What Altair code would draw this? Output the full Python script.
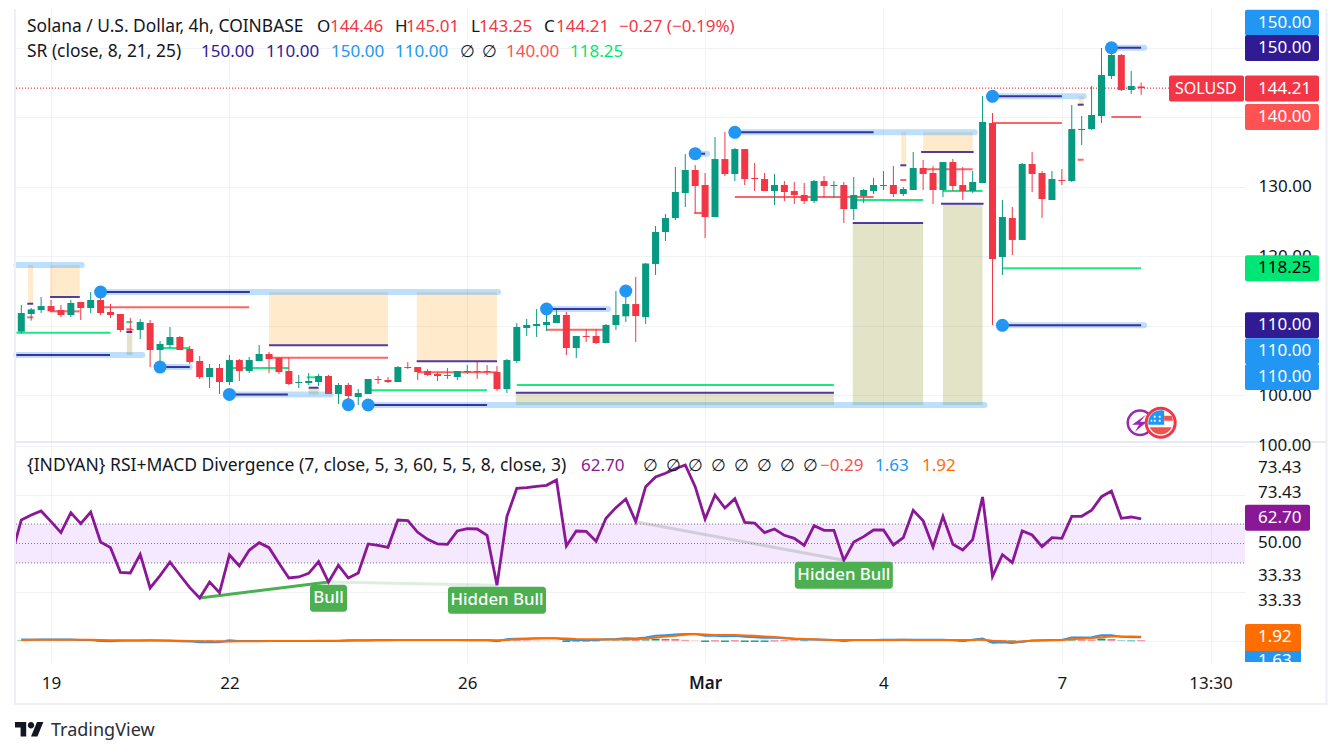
import altair as alt
import pandas as pd

FONT = "Noto Sans"
UP, DOWN = "#089981", "#F23645"
GRID = "#f1f2f6"
FRAME = "#eff0f6"
INK = "#131722"

opens = [109.13,111.67,112.25,112.82,112.25,111.53,113.40,112.54,113.69,111.96,111.67,109.46,109.37,110.37,106.48,107.20,108.36,106.63,104.90,102.59,103.89,101.87,105.04,103.46,104.90,105.91,105.38,103.46,101.73,101.73,101.87,102.74,100.14,101.44,99.71,100.14,102.31,102.16,101.87,104.03,104.03,103.46,103.03,102.88,102.59,103.31,103.46,103.46,103.31,100.86,104.90,109.65,109.94,110.09,110.37,111.53,106.77,108.50,108.50,107.49,110.09,111.34,113.11,111.24,118.87,123.49,125.50,129.10,132.42,130.26,125.65,134.00,131.84,135.44,131.27,131.12,129.39,130.26,129.39,128.82,127.95,130.83,130.11,130.26,126.80,128.67,129.39,130.11,130.26,128.96,129.54,132.71,132.00,129.54,133.57,130.26,129.40,130.55,139.19,119.89,125.51,122.34,133.29,132.00,128.10,130.98,130.84,138.18,138.33,140.20,145.97,148.99,143.95,144.46]
highs = [112.97,112.54,114.12,113.69,112.97,113.69,113.40,114.84,114.27,113.11,111.67,111.10,110.95,110.81,107.78,109.80,108.50,107.06,105.62,104.47,104.47,105.76,105.19,105.48,107.20,106.20,105.38,105.38,102.88,103.17,103.03,102.88,101.73,101.73,100.86,102.31,102.74,102.59,104.18,104.75,104.03,103.75,103.31,103.89,103.46,104.32,104.75,104.32,104.18,105.19,110.37,110.95,112.39,112.82,112.34,111.96,108.50,109.51,109.51,110.23,114.99,114.99,117.00,119.02,124.35,126.08,132.85,134.72,133.14,131.99,137.17,137.89,135.59,135.44,133.43,131.99,131.84,130.83,130.69,130.55,130.98,131.55,130.83,130.69,131.41,129.68,131.27,132.27,132.99,129.97,135.02,133.86,132.99,133.57,134.01,132.85,132.28,143.08,140.63,128.10,127.09,133.43,135.02,132.28,132.28,132.57,141.79,140.20,144.53,150.00,149.57,149.14,146.69,145.01]
lows = [108.84,110.71,111.82,111.96,111.24,111.24,110.81,111.82,111.53,111.10,109.08,108.93,108.07,104.03,104.03,106.77,106.48,104.47,102.31,101.01,100.14,101.44,102.02,103.17,104.90,103.17,103.03,101.44,101.01,101.44,101.30,100.14,98.70,98.85,98.56,100.14,101.59,101.73,101.87,103.75,102.16,102.74,102.02,102.31,102.16,103.03,102.31,102.88,100.58,100.29,104.61,108.50,108.36,109.22,110.37,105.76,105.33,107.64,107.35,107.49,109.37,110.52,107.64,110.23,117.29,122.19,125.21,127.09,126.22,122.62,125.65,131.55,130.83,130.26,129.39,129.39,127.38,127.95,127.52,127.52,127.66,128.38,128.38,124.78,125.21,127.66,128.96,129.54,128.53,128.67,129.54,129.54,127.52,128.53,129.40,128.10,129.11,130.55,110.09,117.29,120.17,122.34,129.25,125.51,128.10,130.26,130.69,136.02,138.18,139.19,145.53,143.80,143.37,143.25]
closes = [111.82,112.34,112.82,112.06,111.53,113.26,112.54,113.69,111.82,111.53,109.37,109.32,110.52,106.48,107.35,108.36,106.48,104.75,102.59,103.89,101.87,105.04,103.46,105.04,105.91,105.19,103.31,101.59,101.87,102.02,102.74,100.14,101.44,99.86,100.29,102.31,102.16,101.87,104.03,103.89,103.31,102.88,102.74,102.74,103.46,103.46,103.31,103.31,100.86,105.04,109.80,110.09,110.23,110.52,111.53,106.77,108.50,108.36,107.49,110.09,111.53,113.11,111.38,118.95,123.49,125.50,129.25,132.42,130.11,125.65,134.00,131.84,135.44,131.12,131.12,129.39,130.26,129.25,128.82,127.95,130.83,130.11,130.26,126.80,128.82,129.54,130.26,130.26,128.96,129.68,132.71,131.85,129.54,133.57,130.12,129.40,130.69,139.34,119.60,125.65,122.34,133.29,131.85,128.24,131.12,130.84,138.33,138.33,140.35,146.11,148.99,143.95,144.53,144.21]

rsi_bars = list(range(-1, 114))
rsi_values = [43.6,62.12,64.69,66.76,61.26,55.59,65.90,60.23,66.24,50.78,47.86,35.14,34.80,44.42,27.07,33.43,40.47,33.77,27.24,21.92,30.16,24.67,44.08,38.41,46.48,50.43,47.86,39.78,32.22,32.74,34.63,40.64,30.16,38.75,32.22,34.80,49.75,49.06,48.03,62.12,61.77,55.76,52.15,49.75,49.58,56.45,57.65,57.48,54.21,28.44,63.84,78.44,78.78,79.47,79.98,82.73,48.72,56.45,56.28,51.12,62.98,68.47,72.94,61.26,79.30,84.28,86.17,88.57,90.46,79.30,62.63,75.00,68.30,73.11,60.91,60.57,55.59,57.48,54.21,52.67,49.06,59.20,56.79,56.79,41.33,50.78,53.53,56.96,56.96,49.23,53.01,67.10,61.77,48.20,64.01,49.58,46.66,51.98,73.97,33.08,44.25,40.13,56.45,54.39,48.37,53.01,52.67,64.01,64.01,67.10,74.14,77.06,62.98,63.66,62.70]

signal = [.3,.35,.4,.45,.45,.45,.4,.35,.3,.15,.1,.05,0,0,0,-.05,-.15,-.25,-.35,-.4,-.45,-.45,-.4,-.4,-.35,-.3,-.3,-.3,-.3,-.3,-.25,-.25,-.2,-.1,0,.05,.1,.15,.2,.25,.25,.25,.25,.25,.25,.2,.2,.2,.1,.3,.6,.8,1.0,1.1,1.15,1.05,.8,.7,.6,.55,.55,.6,.7,1.0,1.5,2.0,2.5,3.0,3.3,3.1,2.9,2.9,2.8,2.6,2.4,2.1,1.8,1.4,1.0,.8,.6,.4,.3,.2,.2,.2,.25,.3,.3,.35,.3,.3,.3,.3,.2,.2,.3,.5,-.1,-.4,-.7,-.5,-.1,.05,.1,.2,.7,1.0,1.3,1.7,2.1,2.1,2.0,1.92]
hist = [.2,.1,.1,.05,.1,.05,-.1,-.1,-.5,-.5,-.2,-.1,.05,.1,.05,-.05,-.2,-.2,-.6,-.5,-.4,.4,.2,.1,.1,.05,.1,.1,.1,.1,.1,.1,.1,.2,.1,.1,.1,.1,.1,-.05,-.05,-.05,.05,.05,-.05,-.05,.05,-.05,-.5,.4,.3,.2,.1,.1,.05,-.7,-.5,-.5,-.4,.1,.2,.5,.3,.6,.9,.7,.6,.3,.1,-.7,-.4,-.7,-.4,-.7,-.7,-.7,-.4,-.3,-.2,-.3,-.1,-.05,-.05,-.4,.05,.05,.05,.05,.05,.1,.1,.1,.05,.05,-.05,-.5,.1,.5,-1.0,-.5,-.6,-.2,.1,.1,.1,.1,.8,.5,.4,1.0,.6,-.2,-.35,-.29]

# Support / resistance indicator pieces: start bar, end bar, price
sr_band = [(-0.5,6.1,118.73),(8,48.1,114.84),(-0.5,12.2,105.76),(14,17,104.03),(21,31.2,100.09),(35,97.2,98.56),(53,59.2,112.39),(68,69.2,134.77),(72,96.2,137.85),(98,107.2,143.04),(99,113.3,110.04),(110,113.3,150.04)]
sr_level = [(8,23.06,114.84),(-0.5,8.95,105.76),(14,17,104.03),(21,26.9,100.09),(35,47,98.56),(53,59,112.39),(68,69,134.77),(72,86,137.85),(98,105,143.04),(99,113,110.04),(110,113,150.04)]
sr_pivot_bar = [8,14,21,33,35,53,61,68,72,98,99,110]
sr_pivot_price = [114.84,104.03,100.09,98.6,98.56,112.39,114.99,134.77,137.85,143.04,110.04,150.04]
orange_box = [(0.68,1.2,118.73,113.15),(2.9,5.9,118.73,114.12),(25,37,114.84,107.16),(39.9,48,114.84,104.85),(88.8,89.3,137.85,133.10),(91,96,137.85,135.01),(106.7,107.2,143.04,141.83)]
olive_box = [(10.65,11.2,109.08,105.76),(29,30,101.05,100.09),(49.9,82,100.33,98.56),(83.9,91,124.78,98.56),(93,97,127.57,98.56)]
box_edge = [(0.6,1.2,113.15),(2.9,5.9,114.12),(25,37,107.16),(39.9,48,104.85),(88.7,89.3,133.10),(90.8,96.1,135.01),(106.6,107.2,141.83),(10.6,11.2,109.08),(29,30,101.05),(49.9,82,100.33),(83.9,91,124.78),(92.8,97.1,127.57)]
red_seg = [(0.6,1.2,111.19),(2.9,5.9,112.06),(8.2,23,112.64),(10.6,11.2,109.47),(25,37,105.37),(40,48,103.27),(53,59,109.41),(67.9,68.8,126.22),(72,86,128.53),(88.7,89.3,130.98),(91,96,132.52),(98,105,139.19),(106.6,107.2,133.9),(110,113,140.06)]
green_seg = [(-0.5,9,108.98),(10.6,11.2,110.52),(14,17,106.77),(21,27,103.89),(28.8,30,102.55),(35,47,100.67),(50,82,101.44),(84,91,128.1),(93,97,129.4),(99,113,118.25)]

time_ticks = [3,21,45,69,87,105,120]
time_labels = ["19","22","26","Mar","4","7","13:30"]
price_ticks = [100,110,120,130,140,150]
rsi_grid = [100,75,25,0]
rsi_levels = [60,50,40]

XDOM = [-0.535, 123.48]
xs = alt.Scale(domain=XDOM, nice=False, zero=False, padding=0)
ps = alt.Scale(domain=[93.23, 155.62], nice=False, zero=False)
rs = alt.Scale(domain=[-11.08, 101.8], nice=False, zero=False)
W, H1, H2 = 1229, 433, 219


def seg_df(rows):
    return pd.DataFrame(rows, columns=["a", "b", "p"])


def seg_layer(rows, color, width, opacity=1.0, cap="butt"):
    return alt.Chart(seg_df(rows)).mark_rule(color=color, strokeWidth=width, opacity=opacity, strokeCap=cap).encode(
        x=alt.X("a:Q", scale=xs), x2="b:Q", y=alt.Y("p:Q", scale=ps))


def box_layer(rows, color, opacity):
    df = pd.DataFrame(rows, columns=["a", "b", "t", "u"])
    return alt.Chart(df).mark_rect(color=color, opacity=opacity).encode(
        x=alt.X("a:Q", scale=xs), x2="b:Q", y=alt.Y("t:Q", scale=ps), y2="u:Q")


def text_px(s, px, py, color=INK, size=17, align="left", weight=400):
    return alt.Chart(pd.DataFrame({"t": [s]})).mark_text(
        font=FONT, fontSize=size, color=color, align=align, baseline="middle", fontWeight=weight
    ).encode(x=alt.value(px), y=alt.value(py), text="t:N")


def line_px(x1, x2, y1, y2, color, width):
    return alt.Chart(pd.DataFrame({"k": [0]})).mark_rule(color=color, strokeWidth=width).encode(
        x=alt.value(x1), x2=alt.value(x2), y=alt.value(y1), y2=alt.value(y2))


def badge(value_text, pos, scale, fill, x0=1229, w=74, h=26, ink="white", text_x=1242, size=17):
    d = pd.DataFrame({"p": [pos], "t": [value_text]})
    r = alt.Chart(d).mark_rect(color=fill, width=w, height=h, cornerRadius=2).encode(
        x=alt.value(x0 + w / 2), y=alt.Y("p:Q", scale=scale))
    t = alt.Chart(d).mark_text(font=FONT, fontSize=size, color=ink, align="left", baseline="middle").encode(
        x=alt.value(text_x), y=alt.Y("p:Q", scale=scale), text="t:N")
    return [r, t]


def path_mark(path, px, py, color, size=4):
    return alt.Chart(pd.DataFrame({"k": [0]})).mark_point(
        shape=path, size=size, filled=True, fill=color, stroke=color, strokeWidth=0, opacity=1
    ).encode(x=alt.value(px), y=alt.value(py))


# ---------------- main pane ----------------
candles = pd.DataFrame({"i": range(len(opens)), "o": opens, "h": highs, "l": lows, "c": closes})
candles["dir"] = ["up" if c >= o else "down" for o, c in zip(opens, closes)]
cscale = alt.Scale(domain=["up", "down"], range=[UP, DOWN])

base_axes = alt.Chart(candles).mark_rule(opacity=0).encode(
    x=alt.X("i:Q", scale=xs, axis=alt.Axis(values=time_ticks, labels=False, ticks=False, domain=False, grid=True,
                                           gridColor=GRID, gridWidth=1, title=None)),
    y=alt.Y("c:Q", scale=ps, axis=alt.Axis(values=price_ticks, orient="right", format=".2f", ticks=False, domain=False,
                                           grid=True, gridColor=GRID, gridWidth=1, title=None, labelFont=FONT,
                                           labelFontSize=17, labelColor=INK, labelPadding=13, labelAlign="left")))

wicks = alt.Chart(candles).mark_rule(strokeWidth=1).encode(
    x=alt.X("i:Q", scale=xs), y=alt.Y("h:Q", scale=ps), y2="l:Q",
    color=alt.Color("dir:N", scale=cscale, legend=None))
bodies = alt.Chart(candles).mark_bar(size=7).encode(
    x=alt.X("i:Q", scale=xs), y=alt.Y("o:Q", scale=ps), y2="c:Q",
    color=alt.Color("dir:N", scale=cscale, legend=None))
pivots = alt.Chart(pd.DataFrame({"i": sr_pivot_bar, "p": sr_pivot_price})).mark_circle(size=169, color="#2196f3", opacity=1).encode(
    x=alt.X("i:Q", scale=xs), y=alt.Y("p:Q", scale=ps))
last_line = alt.Chart(pd.DataFrame({"a": [XDOM[0]], "b": [115.8], "p": [144.21]})).mark_rule(
    color=DOWN, strokeDash=[1, 2], strokeWidth=1.2).encode(
    x=alt.X("a:Q", scale=xs), x2="b:Q", y=alt.Y("p:Q", scale=ps))

main_layers = [base_axes, last_line, box_layer(orange_box, "#ff9800", .2), box_layer(olive_box, "#808000", .22),
               seg_layer(red_seg, "#ff5252", 2, .9), seg_layer(green_seg, "#00e676", 2, .9),
               wicks, bodies,
               seg_layer(sr_band, "#2196f3", 6, .3, "round"),
               seg_layer(box_edge, "#311b92", 2, .85),
               seg_layer(sr_level, "#311b92", 2, .9), pivots]
main_layers += badge("150.00", 153.65, ps, "#2196f3")
main_layers += badge("150.00", 150.0, ps, "#311b92")
main_layers += badge("144.21", 144.16, ps, DOWN)
main_layers += badge("SOLUSD", 144.16, ps, DOWN, x0=1153, w=75, text_x=1159, size=16)
main_layers += badge("140.00", 140.06, ps, "#ff5252")
main_layers += badge("118.25", 118.25, ps, "#00e676", ink="#000000")
main_layers += badge("110.00", 110.04, ps, "#311b92")
main_layers += badge("110.00", 106.3, ps, "#2196f3")
main_layers += badge("110.00", 102.6, ps, "#2196f3")

L1Y, L2Y = 18, 43
legend1 = [("Solana / U.S. Dollar, 4h, COINBASE", 11, INK, 17.4), ("O", 301, INK, 17), ("144.46", 314, DOWN, 17), ("H", 379, INK, 17), ("145.01", 390, DOWN, 17),
           ("L", 455, INK, 17), ("143.25", 463, DOWN, 17), ("C", 528, INK, 17), ("144.21", 540, DOWN, 17), ("\u22120.27 (\u22120.19%)", 603, DOWN, 17)]
legend2 = [("SR (close, 8, 21, 25)", 11, INK, 17.4), ("150.00", 185, "#311b92", 17), ("110.00", 250, "#311b92", 17), ("150.00", 315, "#2196f3", 17),
           ("110.00", 379, "#2196f3", 17), ("\u2205", 444, INK, 17), ("\u2205", 466, INK, 17), ("140.00", 490, "#ff5252", 17), ("118.25", 554, "#00e676", 17)]
for s, px, col, fs in legend1:
    main_layers.append(text_px(s, px, L1Y, col, size=fs))
for s, px, col, fs in legend2:
    main_layers.append(text_px(s, px, L2Y, col, size=fs))

# event icons
ICX, ICY = 1124, 413.7
main_layers.append(alt.Chart(pd.DataFrame({"k": [0]})).mark_point(size=600, filled=False, stroke="#9c27b0", strokeWidth=2.5, opacity=1).encode(
    x=alt.value(ICX), y=alt.value(ICY)))
main_layers.append(path_mark("M6 -8 L-8 2 L-1 2 L-5 9 L7 -1 L0 -1 Z", ICX, ICY, "#9c27b0"))
RX = ICX + 20.7
main_layers.append(alt.Chart(pd.DataFrame({"k": [0]})).mark_point(size=841, filled=True, fill="white", stroke="#F23645", strokeWidth=3, opacity=1).encode(
    x=alt.value(RX), y=alt.value(ICY)))
main_layers.append(path_mark("M-12.3 2 A12.5 12.5 0 0 1 3.5 -12 L3.5 2 Z", RX, ICY, "#2196f3"))
main_layers.append(path_mark("M3.5 -7 L11 -7 L12.4 -2 L3.5 -2 Z", RX, ICY, "#ef5350"))
main_layers.append(path_mark("M-11 4.5 L11 4.5 A12 12 0 0 1 -11 4.5 Z", RX, ICY, "#ef5350"))
main_layers.append(path_mark("M-7 -7h2v2h-2zM-2 -7h2v2h-2zM-7 -3h2v2h-2zM-2 -3h2v2h-2zM-10 -3h1.5v2h-1.5z", RX, ICY, "#e3f2fd"))

# frame pieces of the top pane
main_layers.append(line_px(-1, -1, 0, H1, FRAME, 2))
main_layers.append(line_px(1310.5, 1310.5, 0, H1, FRAME, 2))
main_layers.append(line_px(-1, 1311, H1, H1, "#e0e3eb", 1.5))

main = alt.layer(*main_layers).properties(width=W, height=H1)

# ---------------- indicator pane ----------------
rsi_df = pd.DataFrame({"i": rsi_bars, "v": rsi_values})
macd_df = pd.DataFrame({"i": range(len(hist)), "s": signal, "h": hist})
macd_df["m"] = macd_df["s"] + macd_df["h"]
hcol = []
prev = 0
for h in hist:
    if h >= 0:
        hcol.append("a" if h >= prev else "b")
    else:
        hcol.append("c" if h <= prev else "d")
    prev = h
macd_df["hc"] = hcol
hscale = alt.Scale(domain=["a", "b", "c", "d"], range=["#26a69a", "#b2dfdb", "#ff5252", "#ffcdd2"])

rsi_axes = alt.Chart(rsi_df).mark_rule(opacity=0).encode(
    x=alt.X("i:Q", scale=xs, axis=alt.Axis(values=time_ticks, labelExpr="{" + ",".join(f"'{t}':'{l}'" for t, l in zip(time_ticks, time_labels)) + "}[datum.value]",
                                           labelFont=FONT, labelFontSize=17, labelColor=INK, labelPadding=13, ticks=False, domain=False,
                                           grid=True, gridColor=GRID, gridWidth=1, title=None, labelAngle=0, orient="bottom",
                                           labelFontWeight=alt.condition("datum.value == 69", alt.value(600), alt.value(400)))),
    y=alt.Y("v:Q", scale=rs, axis=alt.Axis(values=rsi_grid, orient="right", labels=False, ticks=False, domain=False, grid=True,
                                           gridColor=GRID, gridWidth=1, title=None)))
band = alt.Chart(pd.DataFrame({"t": [60], "u": [40]})).mark_rect(color="#9c27ff", opacity=.1).encode(
    x=alt.value(0), x2=alt.value(W), y=alt.Y("t:Q", scale=rs), y2="u:Q")
levels = alt.Chart(pd.DataFrame({"v": rsi_levels})).mark_rule(color="#787b86", strokeDash=[1, 2], strokeWidth=1).encode(
    x=alt.value(0), x2=alt.value(W), y=alt.Y("v:Q", scale=rs))
rsi_line = alt.Chart(rsi_df).mark_line(color="#8a1796", strokeWidth=2.8, clip=True).encode(
    x=alt.X("i:Q", scale=xs), y=alt.Y("v:Q", scale=rs))
hist_bars = alt.Chart(macd_df.assign(z=0)).mark_bar(size=8).encode(
    x=alt.X("i:Q", scale=xs), y=alt.Y("h:Q", scale=rs), y2="z:Q",
    color=alt.Color("hc:N", scale=hscale, legend=None))
macd_line = alt.Chart(macd_df).mark_line(color="#2196f3", strokeWidth=2).encode(
    x=alt.X("i:Q", scale=xs), y=alt.Y("m:Q", scale=rs))
signal_line = alt.Chart(macd_df).mark_line(color="#ff6d00", strokeWidth=2).encode(
    x=alt.X("i:Q", scale=xs), y=alt.Y("s:Q", scale=rs))


def div_line(a, b, va, vb, color, width, opacity):
    d = pd.DataFrame({"a": [a], "b": [b], "va": [va], "vb": [vb]})
    return alt.Chart(d).mark_rule(color=color, strokeWidth=width, opacity=opacity).encode(
        x=alt.X("a:Q", scale=xs), x2="b:Q", y=alt.Y("va:Q", scale=rs), y2="vb:Q")


def signal_tag(s, bar, pos, w):
    d = pd.DataFrame({"i": [bar], "p": [pos], "t": [s]})
    r = alt.Chart(d).mark_rect(color="#4caf50", width=w, height=27, cornerRadius=3).encode(
        x=alt.X("i:Q", scale=xs), y=alt.Y("p:Q", scale=rs))
    t = alt.Chart(d).mark_text(font=FONT, fontSize=16.8, color="white", baseline="middle", align="center", fontWeight=500).encode(
        x=alt.X("i:Q", scale=xs), y=alt.Y("p:Q", scale=rs), text="t:N")
    return [r, t]


rsi_layers = [rsi_axes, band, levels, hist_bars, macd_line, signal_line,
              div_line(18, 31, 21.92, 30.16, "#4caf50", 3, 1),
              div_line(31, 48, 30.16, 28.44, "#4caf50", 3, .2),
              div_line(62, 83, 61.26, 41.33, "#69805f", 3, .25),
              rsi_line]
rsi_layers += signal_tag("Bull", 31, 21.75, 37)
rsi_layers += signal_tag("Hidden Bull", 48, 20.72, 98)
rsi_layers += signal_tag("Hidden Bull", 83, 33.6, 98)

tick_text = ["100.00", "73.43", "73.43", "50.00", "33.33", "33.33"]
tick_pos = [100, 88.9, 76, 50, 33.33, 20.4]
for s, p in zip(tick_text, tick_pos):
    d = pd.DataFrame({"p": [p], "t": [s]})
    rsi_layers.append(alt.Chart(d).mark_text(font=FONT, fontSize=17, color=INK, align="left", baseline="middle").encode(
        x=alt.value(1242), y=alt.Y("p:Q", scale=rs), text="t:N"))
rsi_layers += badge("62.70", 62.70 + 0.6, rs, "#8a1796", w=65, h=26)
rsi_layers += badge("1.63", -10.6, rs, "#2196f3", w=56, h=26)
rsi_layers += badge("1.92", 1.6, rs, "#ff6d00", w=56, h=27)
# the pane cuts off its lowest label
rsi_layers.append(line_px(1229, 1300, H2 + 8, H2 + 8, "white", 16))

legend3 = [("{INDYAN} RSI+MACD Divergence (7, close, 5, 3, 60, 5, 5, 8, close, 3)", 11, INK, 17.5), ("62.70", 565, "#8a1796", 17)]
for px in [627, 650, 672, 695, 718, 741, 764, 787]:
    legend3.append(("\u2205", px, INK, 17))
legend3 += [("\u22120.29", 804, "#ef5350", 17), ("1.63", 859, "#2196f3", 17), ("1.92", 906, "#ff6d00", 17)]
for s, px, col, fs in legend3:
    rsi_layers.append(text_px(s, px, 23, col, size=fs))

# outer frame below the pane and footer
rsi_layers.append(line_px(-1, -1, 0, 262, FRAME, 2))
rsi_layers.append(line_px(1310.5, 1310.5, 0, 262, FRAME, 2))
rsi_layers.append(line_px(-2, 1311.5, 261, 261, FRAME, 2))
rsi_layers.append(path_mark("M14 22H7V11H0V4h14v18ZM28 22h-8l7.5-18h8L28 22ZM16 8a4 4 0 1 0 8 0a4 4 0 1 0 -8 0Z", -1, 275.8, INK, size=2.56))
rsi_layers.append(text_px("TradingView", 35, 288, "#2a2e39", size=18))

rsi = alt.layer(*rsi_layers).properties(width=W, height=H2)

chart = alt.vconcat(main, rsi, spacing=1, bounds="flush").properties(
    padding={"left": 3, "top": 0, "right": 0, "bottom": 24},
    background="white",
).configure_view(stroke=None)

chart.save("out.html", embed_options={"renderer": "svg", "actions": False})
